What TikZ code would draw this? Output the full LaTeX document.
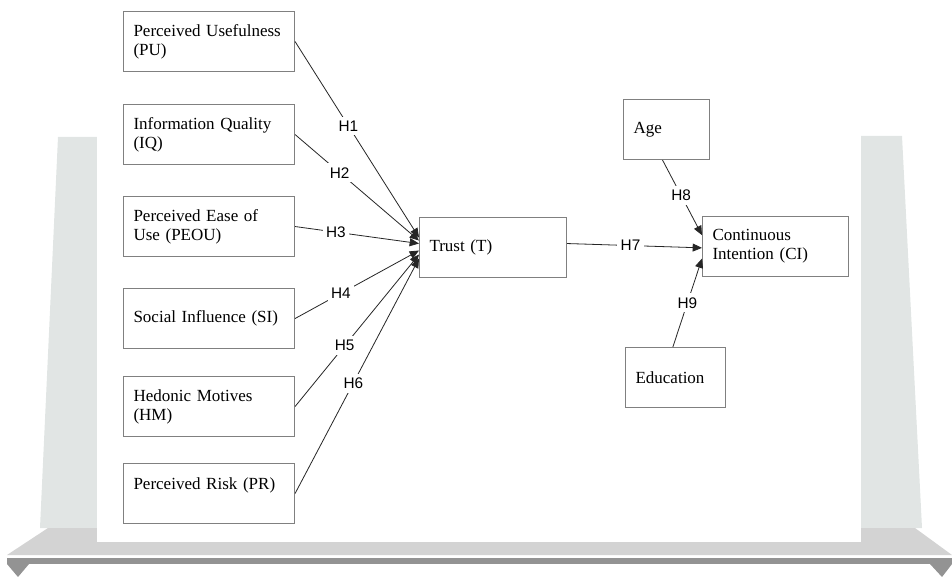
\documentclass[tikz,border=0pt]{standalone}
\usepackage{fontspec}
\setmainfont{Liberation Serif}
\newfontfamily\hfont{Liberation Sans}
\usetikzlibrary{arrows.meta}
\definecolor{panel}{HTML}{E1E5E4}
\definecolor{deck}{HTML}{D3D3D3}
\definecolor{rail}{HTML}{939393}
\tikzset{
  box/.style={draw=black!50, line width=0.8pt, anchor=north west, align=left,
    inner xsep=7.5pt, inner ysep=0pt, minimum height=45pt,
    font=\fontsize{12.75}{14.25}\selectfont},
  conn/.style={draw=black!85, line width=0.6pt, -{Triangle[length=7pt,width=6pt]}},
  hlbl/.style={fill=white, inner xsep=2.5pt, inner ysep=3pt, font=\hfont\fontsize{11.5}{13}\selectfont}
}

\begin{document}
\begin{tikzpicture}[x=0.75pt, y=-0.75pt]
    \useasboundingbox (0,0) rectangle (952,577);
    % stage behind the model
    \fill[panel] (58,137) -- (97,137) -- (97,528) -- (40,528) -- cycle;
    \fill[panel] (861,136) -- (902,136) -- (922,528) -- (861,528) -- cycle;
    \fill[deck] (48,528) -- (915,528) -- (952,555) -- (7,555) -- cycle;
    \fill[white] (97,0) rectangle (861,542);
    \fill[rail] (7,558) rectangle (952,564);
    \fill[rail] (7,564) -- (29,564) -- (18,577) -- cycle;
    \fill[rail] (930,564) -- (952,564) -- (942,577) -- cycle;

    \foreach \y/\n/\t in {11/pu/{Perceived Usefulness\\(PU)}, 104/iq/{Information Quality\\(IQ)},
      196/peou/{Perceived Ease of\\Use (PEOU)}, 288/si/{Social Influence (SI)},
      376/hm/{Hedonic Motives\\(HM)}, 463/pr/{Perceived Risk (PR)\\\mbox{}}}
      {\node[box, text width=113.25pt] (\n) at (123,\y) {\t};}
    \node[box, text width=95.25pt] (trust) at (419,217) {Trust (T)};
    \node[box, text width=94.5pt] (ci) at (702,216) {Continuous\\Intention (CI)};
    \node[box, text width=49.5pt] (age) at (623,99) {Age};
    \node[box, text width=60pt] (edu) at (625,347) {Education};

    %        H1            H2             H3           H4              H5              H6
    \foreach \n/\s/\p [count=\i] in {pu/7.5pt/0.43, iq/5.25pt/0.36, peou/3pt/0.33, si/-2.25pt/0.37, hm/-5.25pt/0.4, pr/-8.25pt/0.47}
      {\draw[conn] (\n.east) -- node[hlbl, pos=\p] {H\i} ([yshift=\s]trust.west);}
    \draw[conn] ([yshift=3pt]trust.east) -- node[hlbl, pos=0.47] {H7} ([yshift=-1pt]ci.west);
    \draw[conn] ([xshift=-3pt]age.south) -- node[hlbl, pos=0.47] {H8} ([yshift=8.5pt]ci.west);
    \draw[conn] ([xshift=-2pt]edu.north) -- node[hlbl, pos=0.5] {H9} ([yshift=-9pt]ci.west);
\end{tikzpicture}
\end{document}
